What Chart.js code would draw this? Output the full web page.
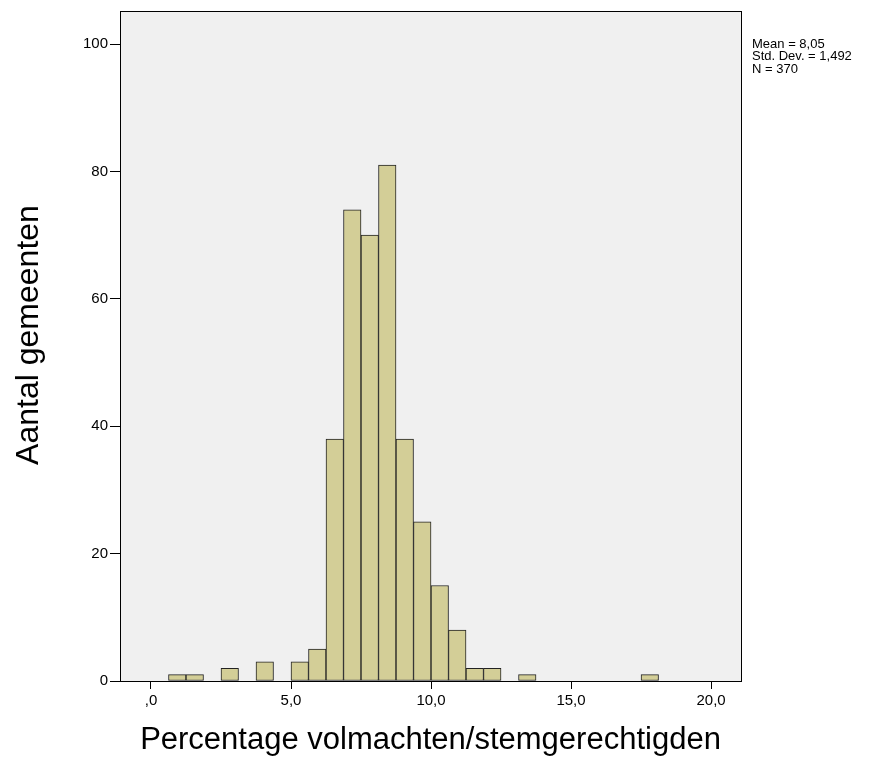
<!DOCTYPE html>
<html>
<head>
<meta charset="utf-8">
<script src="https://cdn.jsdelivr.net/npm/chart.js@4.4.1/dist/chart.umd.min.js"></script>
<style>
  html, body { margin: 0; padding: 0; background: #fff; }
  #wrap { width: 884px; height: 781px; position: relative; }
</style>
</head>
<body>
<div id="wrap"><canvas id="histo"></canvas></div>
<script>
// histogram bins (left edge) and counts
var binWidth = 0.625;
var binStarts = [0.625, 1.25, 2.5, 3.75, 5.0, 5.625, 6.25, 6.875, 7.5, 8.125, 8.75, 9.375, 10.0, 10.625, 11.25, 11.875, 13.125, 17.5];
var counts = [1, 1, 2, 3, 3, 5, 38, 74, 70, 81, 38, 25, 15, 8, 2, 2, 1, 1];
var xTicks = [0, 5, 10, 15, 20];
var yTicks = [0, 20, 40, 60, 80, 100];
var statLines = ['Mean = 8,05', 'Std. Dev. = 1,492', 'N = 370'];
var yTitle = 'Aantal gemeenten';

var FONT = '"Liberation Sans", Arial, sans-serif';

var points = binStarts.map(function (s, i) {
    return { x: s + binWidth / 2, y: counts[i] };
});

// plot background, frame, y title and the stats text
var framePlugin = {
    id: 'frame',
    beforeDatasetsDraw: function (chart) {
        var a = chart.chartArea, c = chart.ctx;
        c.save();
        c.fillStyle = '#f0f0f0';
        c.fillRect(a.left, a.top, a.right - a.left, a.bottom - a.top);
        c.restore();
    },
    afterDraw: function (chart) {
        var a = chart.chartArea, c = chart.ctx;
        c.save();
        c.strokeStyle = '#000';
        c.lineWidth = 1;
        c.strokeRect(Math.round(a.left) + 0.5, Math.round(a.top) + 0.5,
            Math.round(a.right - a.left), Math.round(a.bottom - a.top));
        c.fillStyle = '#000';
        c.font = '13px ' + FONT;
        c.textBaseline = 'middle';
        statLines.forEach(function (t, i) {
            c.fillText(t, a.right + 11, a.top + 33 + i * 12.5);
        });
        // y axis title, rotated
        c.translate(29, 335);
        c.rotate(-Math.PI / 2);
        c.font = '32px ' + FONT;
        c.textAlign = 'center';
        c.fillText(yTitle, 0, 0);
        c.restore();
    }
};

var ctx = document.getElementById('histo').getContext('2d');
var myChart = new Chart(ctx, {
    type: 'bar',
    data: {
        datasets: [{
            data: points,
            backgroundColor: '#d3ce97',
            borderColor: '#222222',
            borderWidth: 1,
            borderSkipped: false,
            barPercentage: 1,
            categoryPercentage: 1
        }]
    },
    options: {
        responsive: true,
        maintainAspectRatio: false,
        animation: false,
        layout: { padding: { top: 10, right: 143, left: 0, bottom: 0 } },
        plugins: {
            legend: { display: false },
            tooltip: { enabled: false }
        },
        scales: {
            x: {
                type: 'linear',
                offset: false,
                min: -1.107,
                max: 21.07,
                afterBuildTicks: function (s) {
                    s.ticks = xTicks.map(function (v) { return { value: v }; });
                },
                afterFit: function (s) { s.height = 100; },
                grid: { offset: false, drawOnChartArea: false, color: '#000', tickLength: 8 },
                border: { display: true, color: '#000' },
                ticks: {
                    color: '#000',
                    padding: 3,
                    maxRotation: 0,
                    font: { size: 15, family: FONT },
                    callback: function (v) {
                        return v === 0 ? ',0' : v.toFixed(1).replace('.', ',');
                    }
                },
                title: {
                    display: true,
                    text: 'Percentage volmachten/stemgerechtigden',
                    color: '#000',
                    font: { size: 31, family: FONT },
                    padding: { top: 0, bottom: 22 }
                }
            },
            y: {
                min: 0,
                max: 105.2,
                afterBuildTicks: function (s) {
                    s.ticks = yTicks.map(function (v) { return { value: v }; });
                },
                afterFit: function (s) { s.width = 120; },
                grid: { drawOnChartArea: false, color: '#000', tickLength: 10 },
                border: { display: true, color: '#000' },
                ticks: {
                    color: '#000',
                    padding: 2,
                    font: { size: 15, family: FONT }
                }
            }
        }
    },
    plugins: [framePlugin]
});
</script>
</body>
</html>
